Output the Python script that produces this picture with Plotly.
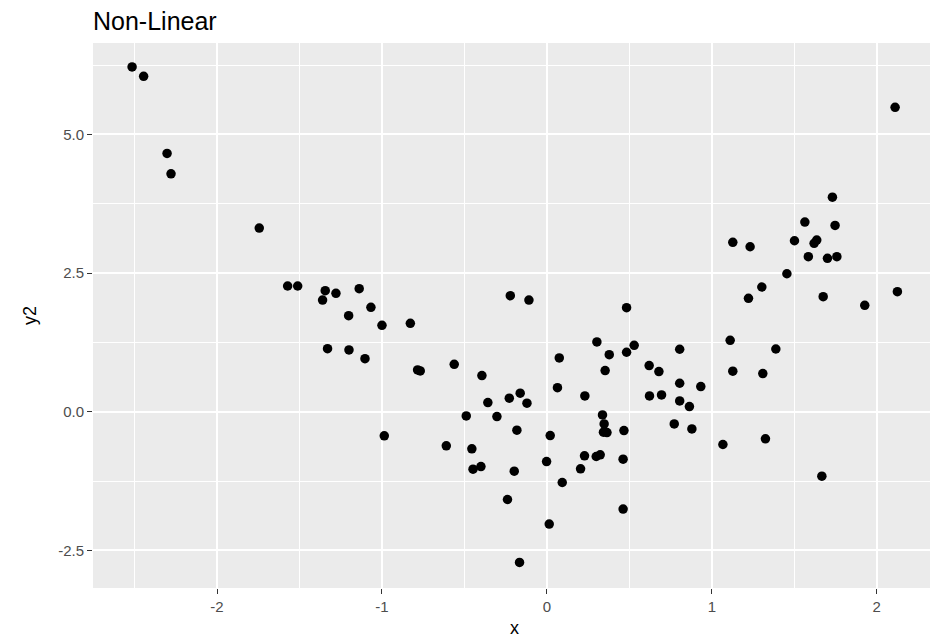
import plotly.graph_objects as go

# Points
x = [-2.515, -2.445, -2.303, -2.279, -1.744, -1.572, -1.511, -1.344, -1.279, -1.360,
     -1.138, -1.067, -1.202, -1.000, -1.330, -1.200, -1.103, -0.986, -0.828, -0.784,
     -0.768, -0.562, -0.394, -0.222, -0.109, -0.610, -0.489, -0.455, -0.448, -0.400,
     -0.358, -0.303, -0.228, -0.162, -0.121, -0.182, -0.198, -0.239, -0.166, 0.020,
     -0.002, 0.014, 0.093, 0.064, 0.075, 0.230, 0.303, 0.378, 0.353, 0.483,
     0.483, 0.529, 0.620, 0.679, 0.622, 0.695, 0.805, 0.805, 0.805, 0.772,
     0.337, 0.347, 0.343, 0.364, 0.467, 0.228, 0.299, 0.323, 0.204, 0.462,
     0.462, 0.864, 0.933, 0.879, 1.067, 1.325, 1.667, 1.127, 1.309, 1.111,
     1.388, 1.222, 1.303, 1.127, 1.232, 1.455, 1.501, 1.564, 1.585, 1.620,
     1.636, 1.731, 1.747, 1.701, 1.758, 1.675, 1.927, 2.125, 2.111]
y2 = [6.218, 6.050, 4.658, 4.290, 3.312, 2.267, 2.267, 2.182, 2.135, 2.014,
      2.218, 1.883, 1.732, 1.558, 1.137, 1.114, 0.957, -0.436, 1.594, 0.753,
      0.735, 0.855, 0.651, 2.092, 2.014, -0.616, -0.076, -0.670, -1.036, -0.989,
      0.164, -0.088, 0.243, 0.333, 0.153, -0.333, -1.072, -1.584, -2.719, -0.430,
      -0.899, -2.027, -1.277, 0.434, 0.969, 0.285, 1.258, 1.029, 0.741, 1.876,
      1.072, 1.198, 0.831, 0.723, 0.285, 0.303, 1.126, 0.513, 0.195, -0.220,
      -0.058, -0.220, -0.370, -0.376, -0.340, -0.796, -0.808, -0.778, -1.031, -0.856,
      -1.757, 0.092, 0.453, -0.310, -0.592, -0.490, -1.163, 0.730, 0.687, 1.288,
      1.131, 2.045, 2.249, 3.054, 2.975, 2.488, 3.083, 3.420, 2.795, 3.036,
      3.095, 3.870, 3.360, 2.766, 2.795, 2.074, 1.918, 2.164, 5.490]

x_ticks = [-2, -1, 0, 1, 2]
y_ticks = [-2.5, 0.0, 2.5, 5.0]
y_tick_labels = ["-2.5", "0.0", "2.5", "5.0"]

fig = go.Figure(go.Scatter(
    x=x, y=y2, mode="markers",
    marker=dict(color="black", size=9.5, line=dict(width=0)),
    showlegend=False,
))

font_family = "Liberation Sans, Arial, sans-serif"

# The page body has an 8px default margin, so the figure is sized/offset to compensate.
W, H = 930, 631
fig.update_layout(
    width=W, height=H,
    margin=dict(l=85, r=2, t=35, b=51, autoexpand=False),
    paper_bgcolor="white",
    plot_bgcolor="#EBEBEB",
    font=dict(family=font_family, color="black"),
    title=dict(text="Non-Linear", x=85 / W, xref="container", xanchor="left",
               y=1 - 13.5 / H, yref="container", yanchor="middle",
               font=dict(size=25, color="black", family=font_family),
               automargin=False),
)

fig.update_xaxes(
    range=[-2.752, 2.359], automargin=False,
    tickvals=x_ticks, ticktext=[str(v) for v in x_ticks],
    showgrid=True, gridcolor="white", gridwidth=1.6,
    zeroline=False, showline=False,
    ticks="outside", ticklen=5, tickwidth=1.2, tickcolor="#333333",
    tickfont=dict(size=15, color="#4D4D4D"),
    minor=dict(dtick=0.5, tick0=0.5, showgrid=True, gridcolor="white", gridwidth=0.8, ticks=""),
    title=dict(text="x", font=dict(size=18, color="black"), standoff=7),
)
fig.update_yaxes(
    range=[-3.18, 6.65], automargin=False,
    tickvals=y_ticks, ticktext=y_tick_labels,
    showgrid=True, gridcolor="white", gridwidth=1.6,
    zeroline=False, showline=False,
    ticks="outside", ticklen=5, tickwidth=1.2, tickcolor="#333333",
    tickfont=dict(size=15, color="#4D4D4D"),
    minor=dict(dtick=1.25, tick0=1.25, showgrid=True, gridcolor="white", gridwidth=0.8, ticks=""),
    title=dict(text="y2", font=dict(size=18, color="black"), standoff=16),
)

fig.write_html("out.html")
